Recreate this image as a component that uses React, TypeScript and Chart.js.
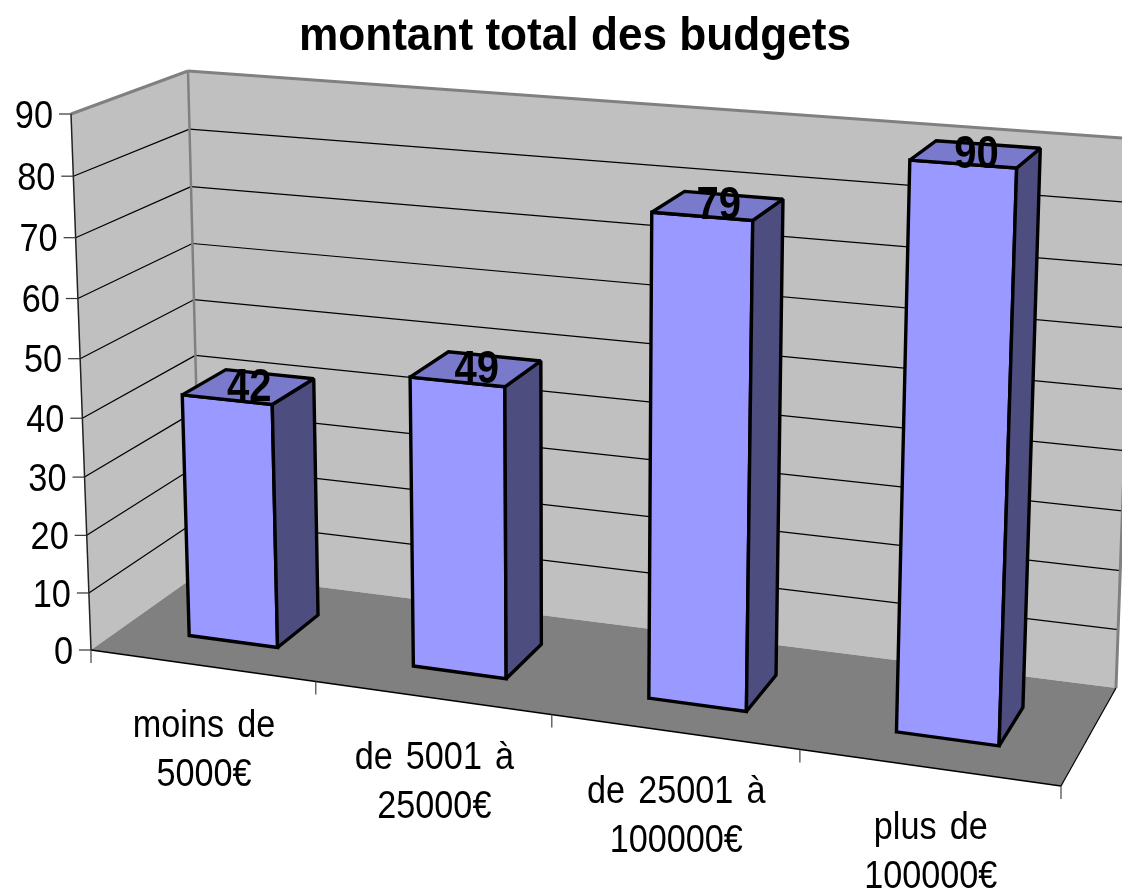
import React, { useEffect, useRef } from "react";
import { Chart, BarController, BarElement, CategoryScale, LinearScale, Title } from "chart.js";

const chartTitle = "montant total des budgets";
const categories = [
  ["moins de", "5000€"],
  ["de 5001 à", "25000€"],
  ["de 25001 à", "100000€"],
  ["plus de", "100000€"],
];
const seriesName = "montant total des budgets";
const seriesValues = [42, 49, 79, 90];
const valueMax = 90;
const valueStep = 10;

// Projection of the flat chart area into the perspective box of the picture.
type Pt = [number, number];
const FBL: Pt = [91, 650], FBR: Pt = [1061, 786], FTL: Pt = [71, 114], FTR: Pt = [1082, 189];
const BBL: Pt = [201, 572], BBR: Pt = [1116, 688], BTL: Pt = [188, 71], BTR: Pt = [1136, 139];
const XWARP = 1.105, VWARP = 1.05;
const DEPTH_NEAR = 0.3, DEPTH_FAR = 0.7;

const FONT = '"Liberation Sans", Arial, sans-serif';
const lerp = (a: Pt, b: Pt, k: number): Pt => [a[0] + (b[0] - a[0]) * k, a[1] + (b[1] - a[1]) * k];
const warp = (k: number, q: number) => (k <= 0 ? 0 : k >= 1 ? 1 : k / (k + q * (1 - k)));

function project(chart: any, xPx: number, yPx: number, depth: number): Pt {
  const a = chart.chartArea;
  const u = warp((xPx - a.left) / (a.right - a.left), XWARP);
  const v = warp((a.bottom - yPx) / (a.bottom - a.top), VWARP);
  const front = lerp(lerp(FBL, FBR, u), lerp(FTL, FTR, u), v);
  const back = lerp(lerp(BBL, BBR, u), lerp(BTL, BTR, u), v);
  return lerp(front, back, depth);
}

function poly(ctx: CanvasRenderingContext2D, pts: Pt[], fill?: string, stroke?: string, lw = 1) {
  ctx.beginPath();
  pts.forEach((p, i) => (i ? ctx.lineTo(p[0], p[1]) : ctx.moveTo(p[0], p[1])));
  ctx.closePath();
  if (fill) { ctx.fillStyle = fill; ctx.fill(); }
  if (stroke) { ctx.strokeStyle = stroke; ctx.lineWidth = lw; ctx.lineJoin = "miter"; ctx.miterLimit = 2; ctx.stroke(); }
}
function seg(ctx: CanvasRenderingContext2D, a: Pt, b: Pt, color: string, lw: number) {
  ctx.beginPath();
  ctx.moveTo(a[0], a[1]);
  ctx.lineTo(b[0], b[1]);
  ctx.strokeStyle = color;
  ctx.lineWidth = lw;
  ctx.stroke();
}
function label(ctx: CanvasRenderingContext2D, text: string, x: number, y: number, font: string, sx: number, align: CanvasTextAlign, wordSpacing = "0px") {
  ctx.save();
  ctx.translate(x, y);
  ctx.scale(sx, 1);
  ctx.font = font;
  (ctx as any).wordSpacing = wordSpacing;
  ctx.fillStyle = "#000";
  ctx.textAlign = align;
  ctx.textBaseline = "middle";
  ctx.fillText(text, 0, 0);
  ctx.restore();
}

class Bar3DController extends BarController {
  static id = "bar3d";
  draw() {
    const chart: any = this.chart;
    const ctx = chart.ctx as CanvasRenderingContext2D;
    this._cachedMeta.data.forEach((el: any) => {
      const l = el.x - el.width / 2, r = el.x + el.width / 2;
      const p = (x: number, y: number, d: number) => project(chart, x, y, d);
      const fbl = p(l, el.base, DEPTH_NEAR), fbr = p(r, el.base, DEPTH_NEAR);
      const ftl = p(l, el.y, DEPTH_NEAR), ftr = p(r, el.y, DEPTH_NEAR);
      const bbr = p(r, el.base, DEPTH_FAR), btr = p(r, el.y, DEPTH_FAR), btl = p(l, el.y, DEPTH_FAR);
      poly(ctx, [fbl, fbr, ftr, ftl], "#9999FF", "#000", 3.4);
      poly(ctx, [fbr, bbr, btr, ftr], "#4D4D80", "#000", 3.4);
      poly(ctx, [ftl, ftr, btr, btl], "#7A7ACC", "#000", 3.4);
    });
  }
}

const box3d = {
  id: "box3d",
  beforeDatasetsDraw(chart: any) {
    const ctx = chart.ctx as CanvasRenderingContext2D;
    const { x, y } = chart.scales;
    const a = chart.chartArea;
    const p = (px: number, py: number, d: number) => project(chart, px, py, d);
    ctx.save();
    // walls and floor
    poly(ctx, [FBL, FTL, BTL, BBL], "#C0C0C0");
    poly(ctx, [BBL, BTL, BTR, BBR], "#C0C0C0");
    poly(ctx, [FBL, BBL, BBR, FBR], "#808080");
    // gridlines
    y.ticks.forEach((t: any) => {
      if (t.value === 0 || t.value === valueMax) return;
      const py = y.getPixelForValue(t.value);
      seg(ctx, p(a.left, py, 0), p(a.left, py, 1), "#000", 1.2);
      seg(ctx, p(a.left, py, 1), p(a.right, py, 1), "#000", 1.2);
    });
    // wall edges
    seg(ctx, FTL, BTL, "#808080", 3);
    seg(ctx, BTL, BTR, "#808080", 3);
    seg(ctx, BTL, BBL, "#808080", 2.5);
    seg(ctx, BTR, BBR, "#808080", 3);
    // axes lines
    seg(ctx, FTL, FBL, "#222", 1.5);
    seg(ctx, FBL, FBR, "#000", 1.4);
    seg(ctx, FBR, BBR, "#000", 1.2);
    // y ticks and labels
    y.ticks.forEach((t: any) => {
      const q = p(a.left, y.getPixelForValue(t.value), 0);
      seg(ctx, [q[0] - 12, q[1]], q, "#333", 1.2);
      label(ctx, String(t.value), q[0] - 18, q[1] + 3, `39px ${FONT}`, 0.88, "right");
    });
    // x ticks and labels
    categories.forEach((lines, i) => {
      const c = p(x.getPixelForValue(i), y.getPixelForValue(0), 0);
      lines.forEach((line, j) => {
        label(ctx, line, c[0] + 2, c[1] + 61 + j * 49, `38px ${FONT}`, 0.9, "center", "4px");
      });
    });
    for (let i = 0; i <= categories.length; i++) {
      const q = p(x.getPixelForValue(i - 0.5), y.getPixelForValue(0), 0);
      seg(ctx, q, [q[0], q[1] + 13], "#444", 1.2);
    }
    // title
    label(ctx, chart.options.plugins.title.text, 575, 37, `bold 47px ${FONT}`, 0.94, "center");
    ctx.restore();
  },
  afterDatasetsDraw(chart: any) {
    const ctx = chart.ctx as CanvasRenderingContext2D;
    const meta = chart.getDatasetMeta(0);
    const values = chart.data.datasets[0].data;
    meta.data.forEach((el: any, i: number) => {
      const c = project(chart, el.x, el.y, 0.5);
      label(ctx, String(values[i]), c[0] + 1, c[1] + 1, `bold 46px ${FONT}`, 0.87, "center");
    });
  },
};

Chart.register(Bar3DController, BarElement, CategoryScale, LinearScale, Title);

export default function App() {
  const ref = useRef<HTMLCanvasElement>(null);
  useEffect(() => {
    const chart = new Chart(ref.current as HTMLCanvasElement, {
      type: "bar3d" as any,
      data: {
        labels: categories as any,
        datasets: [{ label: seriesName, data: seriesValues, categoryPercentage: 1, barPercentage: 0.4 } as any],
      },
      options: {
        animation: false,
        responsive: false,
        layout: { padding: 0 },
        plugins: { title: { display: false, text: chartTitle } },
        scales: {
          x: { type: "category", display: false, offset: true },
          y: { type: "linear", display: false, min: 0, max: valueMax, ticks: { stepSize: valueStep } },
        },
      } as any,
      plugins: [box3d],
    });
    return () => chart.destroy();
  }, []);
  return (
    <canvas
      ref={ref}
      width={1122}
      height={893}
      style={{ position: "absolute", left: 0, top: 0, display: "block" }}
    />
  );
}
